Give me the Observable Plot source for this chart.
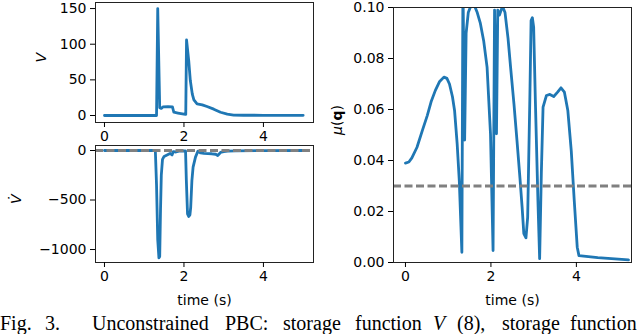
<!DOCTYPE html>
<html><head><meta charset="utf-8">
<script src="https://cdn.jsdelivr.net/npm/d3@7"></script>
<script src="https://cdn.jsdelivr.net/npm/@observablehq/plot@0.6"></script>
<style>
html,body{margin:0;padding:0;background:#fff;}
#wrap{position:relative;width:640px;height:334px;overflow:hidden;background:#fff;}
.panel{position:absolute;}
#caption{position:absolute;left:0;top:313px;width:640px;height:21px;font-family:"Liberation Serif","Times New Roman",serif;font-size:20px;line-height:20px;white-space:nowrap;color:#000;}
#caption span{position:absolute;top:0;}
</style></head><body><div id="wrap"></div>
<script>
// ---- data ----
const timeV = [0,1.31,1.34,1.39,1.43,1.47,1.6,1.71,1.745,1.85,2.0,2.045,2.065,2.12,2.16,2.21,2.25,2.33,2.46,2.58,2.75,2.92,3.09,3.25,3.5,4,5];
const valV  = [0,0,150,11,10,12,12.5,12,4.6,3.5,2,1.5,106,77,49,30,22,16.4,15,12.6,8.9,4.6,1.9,0.6,0.4,0.3,0.2];

const timeVdot = [0,1.28,1.31,1.34,1.37,1.39,1.41,1.43,1.46,1.5,1.55,1.6,1.65,1.7,1.73,1.8,1.9,2.04,2.06,2.09,2.12,2.15,2.17,2.2,2.23,2.29,2.35,2.42,2.5,2.6,2.7,2.8,2.85,2.92,3.0,3.1,3.3,4,5];
const valVdot  = [0,0,-350,-900,-1084,-1070,-600,-250,-90,-60,-50,-40,-30,-45,-12,-15,-5,-5,-300,-640,-667,-650,-573,-303,-168,-67,-7,-25,-30,-32,-33,-38,-50,-20,-12,-6,-3,-1,0];

const timeMu = [0,0.08,0.15,0.27,0.4,0.51,0.6,0.7,0.8,0.9,0.97,1.03,1.1,1.15,1.21,1.26,1.29,1.32,1.345,1.385,1.42,1.47,1.55,1.62,1.68,1.75,1.83,1.91,1.99,2.05,2.085,2.13,2.16,2.2,2.27,2.33,2.4,2.46,2.54,2.61,2.68,2.73,2.77,2.82,2.86,2.91,2.94,2.97,3.0,3.04,3.1,3.14,3.18,3.22,3.3,3.38,3.47,3.56,3.64,3.72,3.8,3.88,3.95,4.02,4.06,4.5,5.22];
const valMu  = [0.039,0.0394,0.041,0.0452,0.052,0.0576,0.063,0.0675,0.071,0.0727,0.0722,0.07,0.065,0.0595,0.0465,0.032,0.018,0.004,0.11,0.048,0.09,0.098,0.1015,0.1005,0.098,0.094,0.087,0.0766,0.0505,0.0047,0.099,0.0505,0.099,0.097,0.1005,0.098,0.088,0.0766,0.062,0.0478,0.033,0.0217,0.0113,0.0097,0.0178,0.0635,0.0949,0.096,0.0923,0.0635,0.0243,0.0015,0.035,0.0609,0.0655,0.0659,0.0651,0.0668,0.0685,0.0668,0.0596,0.0439,0.0243,0.006,0.0027,0.0019,0.001];
const muThreshold = [0.03];
const vdotRef = [0];

const xTicks = [0,2,4];
const vTicks = [0,50,100,150];
const vdotTicks = [-1000,-500,0];
const muTicks = [0,0.02,0.04,0.06,0.08,0.10];

const captionWords = [["Fig.",0,false],["3.",45,false],["Unconstrained",92,false],["PBC:",225,false],["storage",283,false],["function",355,false],["V",433,true],["(8),",457,false],["storage",502,false],["function",570,false]];

// ---- drawing ----
const BLUE = "#1f77b4";
const baseStyle = {fontFamily: "DejaVu Sans, sans-serif", fontSize: "14px", color: "black", background: "transparent", overflow: "visible"};
const wrap = document.getElementById("wrap");
const zip = (a, b) => a.map((t, i) => ({t, v: b[i]}));

function place(svg, left, top) {
  svg.classList.add("panel");
  svg.style.left = left + "px";
  svg.style.top = top + "px";
  wrap.appendChild(svg);
  return svg;
}

function axes(yTicks, yFmt, showXLabel) {
  const m = [
    Plot.frame({stroke: "#222", strokeWidth: 1}),
    Plot.axisX({ticks: xTicks, tickSize: 5, tickPadding: 4, label: null, tickFormat: d3.format("d")}),
    Plot.axisY({ticks: yTicks, tickSize: 5, tickPadding: 4, label: null, tickFormat: yFmt})
  ];
  if (showXLabel) m.push(Plot.text(["time (s)"], {frameAnchor: "bottom", dy: 38, text: d => d, lineAnchor: "middle", fontSize: 14}));
  return m;
}

// Panel A: V
const pA = Plot.plot({
  width: 320, height: 145,
  marginLeft: 95, marginRight: 7, marginTop: 2, marginBottom: 23,
  style: baseStyle,
  x: {domain: [-0.226, 5.26]},
  y: {domain: [-9.8, 158.5]},
  marks: [
    Plot.line(zip(timeV, valV), {x: "t", y: "v", stroke: BLUE, strokeWidth: 2.8, clip: true}),
    ...axes(vTicks, d3.format("d"), false),
    Plot.text(["V"], {frameAnchor: "left", dx: -54, rotate: -90, text: d => d, fontStyle: "italic", lineAnchor: "middle", fontSize: 14})
  ]
});
place(pA, 0, 0);

// Panel B: V dot
const pB = Plot.plot({
  width: 320, height: 170,
  marginLeft: 95, marginRight: 7, marginTop: 5, marginBottom: 48,
  style: baseStyle,
  x: {domain: [-0.226, 5.26]},
  y: {domain: [-1131, 50.5]},
  marks: [
    Plot.line(zip(timeVdot, valVdot), {x: "t", y: "v", stroke: BLUE, strokeWidth: 2.8, clip: true}),
    Plot.ruleY(vdotRef, {stroke: "gray", strokeWidth: 2.8, strokeDasharray: "8,3.5"}),
    ...axes(vdotTicks, d3.format("d"), true),
    Plot.text(["V\u0307"], {frameAnchor: "left", dx: -79, rotate: -90, text: d => d, fontStyle: "italic", lineAnchor: "middle", fontSize: 14})
  ]
});
place(pB, 0, 140);

// Panel C: mu(q)
const pC = Plot.plot({
  width: 320, height: 310,
  marginLeft: 73, marginRight: 9, marginTop: 7, marginBottom: 48,
  style: baseStyle,
  x: {domain: [-0.28, 5.29]},
  y: {domain: [0, 0.1]},
  marks: [
    Plot.line(zip(timeMu, valMu), {x: "t", y: "v", stroke: BLUE, strokeWidth: 2.8, clip: true}),
    Plot.ruleY(muThreshold, {stroke: "gray", strokeWidth: 2.8, strokeDasharray: "8,3.5"}),
    ...axes(muTicks, d3.format(".2f"), true),
    Plot.text(["MULABEL"], {frameAnchor: "left", dx: -56, rotate: -90, text: d => d, lineAnchor: "middle", fontSize: 14})
  ]
});
place(pC, 320, 0);

// rich label μ(q) with bold q
d3.select(pC).selectAll("text").filter(function() { return this.textContent === "MULABEL"; }).each(function() {
  const t = d3.select(this);
  t.text(null);
  t.append("tspan").attr("font-style", "italic").text("μ");
  t.append("tspan").text("(");
  t.append("tspan").attr("font-weight", "bold").text("q");
  t.append("tspan").text(")");
});

// caption
const cap = document.createElement("div");
cap.id = "caption";
for (const [w, x, it] of captionWords) {
  const s = document.createElement("span");
  s.textContent = w;
  s.style.left = x + "px";
  if (it) s.style.fontStyle = "italic";
  cap.appendChild(s);
}
wrap.appendChild(cap);
</script>
</body></html>
